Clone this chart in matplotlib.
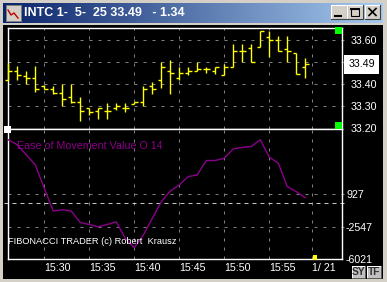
import numpy as np
import matplotlib.pyplot as plt
import matplotlib.transforms as mtransforms
from matplotlib.patches import Rectangle
from matplotlib.lines import Line2D
from matplotlib.colors import LinearSegmentedColormap

plt.rcParams['font.family'] = ['Liberation Sans', 'DejaVu Sans']

# one-minute bars, minutes after 15:00
minutes = [26, 27, 28, 29, 30, 31, 32, 33, 34, 35, 36, 37, 38, 39, 40, 41, 42,
           43, 44, 45, 46, 47, 48, 49, 50, 51, 52, 53, 54, 55, 56, 57, 58, 59]
opens = [33.420, 33.461, 33.436, 33.430, 33.390, 33.380, 33.361, 33.340, 33.321,
         33.290, 33.280, 33.280, 33.290, 33.290, 33.312, 33.320, 33.390, 33.420,
         33.461, 33.430, 33.450, 33.461, 33.470, 33.461, 33.440, 33.480, 33.550,
         33.566, 33.570, 33.615, 33.600, 33.560, 33.540, 33.480]
highs = [33.495, 33.484, 33.458, 33.484, 33.395, 33.390, 33.403, 33.403, 33.340,
         33.290, 33.290, 33.313, 33.313, 33.313, 33.320, 33.390, 33.410, 33.500,
         33.510, 33.480, 33.480, 33.500, 33.480, 33.480, 33.490, 33.580, 33.580,
         33.580, 33.640, 33.640, 33.620, 33.620, 33.540, 33.520]
lows = [33.420, 33.420, 33.403, 33.364, 33.378, 33.357, 33.300, 33.315, 33.234,
        33.261, 33.243, 33.243, 33.284, 33.275, 33.310, 33.300, 33.355, 33.382,
        33.355, 33.420, 33.440, 33.458, 33.450, 33.446, 33.440, 33.480, 33.500,
        33.500, 33.570, 33.525, 33.550, 33.500, 33.445, 33.430]
closes = [33.461, 33.442, 33.430, 33.380, 33.380, 33.361, 33.331, 33.321, 33.280,
          33.272, 33.290, 33.280, 33.300, 33.290, 33.320, 33.380, 33.380, 33.480,
          33.450, 33.450, 33.460, 33.470, 33.470, 33.480, 33.480, 33.550, 33.550,
          33.500, 33.640, 33.600, 33.550, 33.550, 33.445, 33.490]
eom = [6699, 6165, 5096, 4027, 1533, -890, -748, -890, -2102, -2315, -2565,
       -2315, -2030, -3812, -4774, -3455, -1674, 108, 1248, 1889, 2780, 2958,
       4490, 4490, 4739, 5737, 5880, 5986, 6699, 4846, 4205, 1711, 1176, 535]

grid_minutes = [30, 35, 40, 45, 50, 55, 59.7]
time_labels = ['15:30', '15:35', '15:40', '15:45', '15:50', '15:55', '1/ 21']
price_ticks = [33.60, 33.40, 33.30, 33.20]
price_labels = ['33.60', '33.40', '33.30', '33.20']
price_grid = [33.60, 33.50, 33.40, 33.30]
eom_ticks = [927, -2547, -6021]
eom_labels = ['927', '-2547', '-6021']
eom_grid = [927, -2547]
last_price = 33.49
title = 'INTC 1-  5-  25 33.49   - 1.34'

W, H = 387, 282
fig = plt.figure(figsize=(W / 100, H / 100), dpi=100, facecolor='#D4D0C8')


def px(x0, y0, x1, y1):
    # pixel box -> figure fraction rect
    return [x0 / W, 1 - y1 / H, (x1 - x0) / W, (y1 - y0) / H]


def frect(x0, y0, x1, y1, **kw):
    r = px(x0, y0, x1, y1)
    fig.patches.append(Rectangle((r[0], r[1]), r[2], r[3],
                                 transform=fig.transFigure, **kw))


def fline(xs, ys, **kw):
    fig.lines.append(Line2D([x / W for x in xs], [1 - y / H for y in ys],
                            transform=fig.transFigure, **kw))


# window frame: black client area
frect(3, 25, 383, 279, facecolor='black', edgecolor='none', zorder=-1)

# title bar gradient
ax_t = fig.add_axes(px(3, 3, 383, 23))
cmap = LinearSegmentedColormap.from_list('tb', ['#0A246A', '#A6CAF0'])
ax_t.imshow(np.linspace(0, 1, 256).reshape(1, -1), aspect='auto', cmap=cmap,
            extent=[0, 1, 0, 1])
ax_t.axis('off')

# icon
frect(6, 5, 21, 21, facecolor='#D4D0C8', edgecolor='#808080', lw=0.7, zorder=5)
fline([8, 11, 14, 18], [10, 15, 13, 18], color='#C00000', lw=1.0, zorder=6)

fig.text(24 / W, 1 - 13 / H, title, color='white', fontsize=9.0,
         fontweight='bold', va='center', ha='left', zorder=6)

# title buttons
for x0, x1 in [(331, 347), (347, 363), (365, 380)]:
    frect(x0, 5, x1, 19, facecolor='#D4D0C8', edgecolor='none', zorder=5)
    fline([x0, x0, x1], [19, 5, 5], color='white', lw=0.8, zorder=6)
    fline([x0, x1, x1], [19, 19, 5], color='#404040', lw=0.8, zorder=6)
fline([335, 341], [15.5, 15.5], color='black', lw=1.5, zorder=7)
frect(351, 8.5, 359, 15.5, facecolor='none', edgecolor='black', lw=0.8, zorder=7)
fline([351, 359], [9, 9], color='black', lw=1.4, zorder=7)
fline([369, 376], [8.5, 15.5], color='black', lw=1.2, zorder=7)
fline([369, 376], [15.5, 8.5], color='black', lw=1.2, zorder=7)

# chart panels
ax1 = fig.add_axes(px(8, 27.7, 342, 129))
ax2 = fig.add_axes(px(8, 129, 342, 259.3))
x_lim = (25.97, 63.08)

grid_kw = dict(color='#808080', lw=0.72, linestyle=(0, (3, 6)))
for ax in (ax1, ax2):
    ax.set_facecolor('black')
    ax.set_xlim(*x_lim)
    for s in ax.spines.values():
        s.set_color('white')
        s.set_linewidth(1.0)
    for t in grid_minutes:
        ax.axvline(t, zorder=1, **grid_kw)
    ax.yaxis.tick_right()

ax1.set_ylim(33.197, 33.656)
ax2.set_ylim(-6021, 7843)

tr1 = mtransforms.blended_transform_factory(ax1.transAxes, ax1.transData)
tr2 = mtransforms.blended_transform_factory(ax2.transAxes, ax2.transData)
for p in price_grid:
    ax1.plot([0, 1.012], [p, p], transform=tr1, clip_on=False, zorder=1, **grid_kw)
for v in eom_grid:
    ax2.plot([0, 1.012], [v, v], transform=tr2, clip_on=False, zorder=1, **grid_kw)
ax2.plot([-0.012, 1.006], [0, 0], transform=tr2, clip_on=False, zorder=1,
         color='#C8C8C8', lw=0.72, linestyle=(0, (4, 4)))

# OHLC bars
m = np.array(minutes)
bar_kw = dict(colors='#FFFF00', linewidth=1.0, zorder=3)
ax1.vlines(m, lows, highs, **bar_kw).set_clip_on(False)
ax1.hlines(opens, m - 0.38, m, **bar_kw).set_clip_on(False)
ax1.hlines(closes, m, m + 0.38, **bar_kw).set_clip_on(False)

# Ease of Movement
ax2.plot(minutes, eom, color='#8B008B', lw=1.0, zorder=3)

fs = 7.7
ax1.set_xticks([])
ax1.set_yticks(price_ticks)
ax1.set_yticklabels(price_labels)
ax1.tick_params(axis='y', length=0, pad=6.3, labelcolor='white', labelsize=fs)

ax2.set_yticks(eom_ticks)
ax2.set_yticklabels(eom_labels)
ax2.tick_params(axis='y', length=0, pad=2.9, labelcolor='white', labelsize=fs)
ax2.set_xticks(grid_minutes)
ax2.set_xticklabels(time_labels, ha='left')
ax2.tick_params(axis='x', length=0, pad=2.5, labelcolor='white', labelsize=fs)

# last price box
ax1.text(1.019, last_price, '33.49', transform=tr1, ha='left', va='center',
         color='black', fontsize=fs, zorder=10, clip_on=False,
         bbox=dict(boxstyle='square,pad=0.42', fc='white', ec='none'))

ax2.text(0.028, 0.867, 'Ease of Movement Value O 14', transform=ax2.transAxes,
         color='#8B008B', fontsize=fs, ha='left', va='center')
ax2.text(0.0, 0.14, 'FIBONACCI TRADER (c) Robert  Krausz', transform=ax2.transAxes,
         color='white', fontsize=6.7, ha='left', va='center')

# small markers
frect(335, 27, 342, 34, facecolor='#00FF00', edgecolor='none', zorder=5)
frect(335, 122, 342, 129, facecolor='#00FF00', edgecolor='none', zorder=5)
frect(4, 126, 11, 133, facecolor='white', edgecolor='none', zorder=5)
frect(312.7, 255.3, 317.3, 260, facecolor='#FFFF00', edgecolor='none', zorder=5)

# SY / TF buttons
for (x0, x1), lab in zip([(352, 365), (367, 381)], ['SY', 'TF']):
    frect(x0, 266, x1, 278, facecolor='#C0C0C0', edgecolor='none', zorder=5)
    fline([x0, x0, x1], [278, 266, 266], color='white', lw=0.7, zorder=6)
    fline([x0, x1, x1], [278, 278, 266], color='#606060', lw=0.7, zorder=6)
    fig.text((x0 + x1) / 2 / W, 1 - 272 / H, lab, color='#303030', fontsize=7.4,
             fontweight='bold', ha='center', va='center', zorder=7)

fig.savefig('out.png', dpi=100, facecolor=fig.get_facecolor())
